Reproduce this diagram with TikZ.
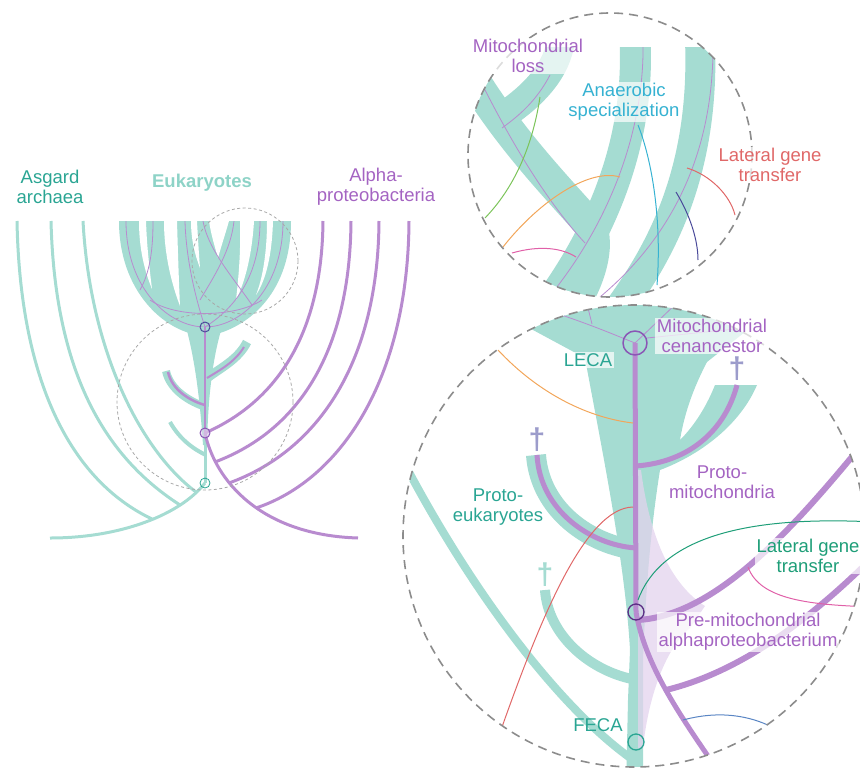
\documentclass[tikz,border=0pt]{standalone}
\usepackage{fontspec}
\setmainfont{Liberation Sans}
\definecolor{tealF}{HTML}{A5DCD2}
\definecolor{tealT}{HTML}{2AA593}
\definecolor{tealL}{HTML}{8ED3C7}
\definecolor{purL}{HTML}{B88BCF}
\definecolor{purT}{HTML}{A464C2}
\definecolor{purC}{HTML}{8A55B5}
\definecolor{purD}{HTML}{5B2D85}
\definecolor{lav}{HTML}{E3D3EE}
\definecolor{dagP}{HTML}{9C9CCB}
\definecolor{grayD}{HTML}{8C8C8C}
\definecolor{grayL}{HTML}{A8A8A8}
\definecolor{lgtG}{HTML}{1E9E78}
\definecolor{lgtR}{HTML}{E06868}
\definecolor{cyanT}{HTML}{36B2D2}
\definecolor{orangeL}{HTML}{F2A65A}
\definecolor{pinkL}{HTML}{E060A8}
\definecolor{blueL}{HTML}{5A86C4}
\definecolor{navyL}{HTML}{4A4A9A}
\definecolor{greenL}{HTML}{7CC45A}
\begin{document}
\begin{tikzpicture}[x=1pt,y=-1pt,line join=round,
  lbl/.style={font=\fontsize{18.5}{20}\selectfont,align=center,inner sep=1.5pt},
  bx/.style={fill=white,fill opacity=0.7,text opacity=1},
  asg/.style={draw=tealF,line width=3pt},
  alp/.style={draw=purL,line width=3pt},
  band/.style={draw=tealF,line width=#1},
  thinp/.style={draw=purL,line width=0.8pt},
  slit/.style={fill=white},
  dagger/.style={font=\fontsize{30}{30}\selectfont\bfseries,inner sep=0pt},
  lgt/.style={line width=1pt},
  dashL/.style={draw=grayL,line width=0.8pt,dash pattern=on 3pt off 2.5pt},
  dashR/.style={draw=grayD,line width=1.6pt,dash pattern=on 9pt off 6pt},
]
\useasboundingbox (0,0) rectangle (860,769);
\clip (0,0) rectangle (860,769);

%================ LEFT PANEL =================
\coordinate (leca) at (205,327);
\coordinate (mid) at (205,433);
\coordinate (feca) at (205,483);
\coordinate (abot) at (50,538);
\coordinate (pbot) at (358,538);
\coordinate (a1t) at (17,221); \coordinate (a1b) at (152,519);
\coordinate (a2t) at (51,221); \coordinate (a2b) at (180,505);
\coordinate (a3t) at (83,221); \coordinate (a3b) at (196,492);
\coordinate (b1t) at (323,221);
\coordinate (b2t) at (351,221); \coordinate (b2b) at (215,462);
\coordinate (b3t) at (379,221); \coordinate (b3b) at (229,483);
\coordinate (b4t) at (409,221); \coordinate (b4b) at (256,508);

% Asgard archaea
\draw[asg] (abot) .. controls (120,538) and (180,515) .. (feca);
\draw[asg] (a1t) .. controls (20,380) and (70,480) .. (a1b);
\draw[asg] (a2t) .. controls (55,380) and (110,460) .. (a2b);
\draw[asg] (a3t) .. controls (90,350) and (140,450) .. (a3b);

% Crown of eukaryotes: bowl with slits
\fill[tealF] (119,221) .. controls (119,292) and (165,331) .. (199,335) -- (213,335) .. controls (250,326) and (291,292) .. (291,221) -- cycle;
\fill[slit] (139,221) -- (146,221) .. controls (147,250) and (150,272) .. (152,289) .. controls (145,272) and (139,250) .. (139,221) -- cycle;
\fill[slit] (164,221) -- (177,221) .. controls (178,255) and (179,285) .. (180,306) .. controls (172,285) and (164,255) .. (164,221) -- cycle;
\fill[slit] (191,221) -- (197,221) .. controls (198,240) and (199,255) .. (200,268) .. controls (195,255) and (191,240) .. (191,221) -- cycle;
\fill[slit] (209,221) -- (229,221) .. controls (225,235) and (221,247) .. (218,258) .. controls (215,247) and (211,235) .. (209,221) -- cycle;
\fill[slit] (240,221) -- (254,221) .. controls (252,255) and (245,282) .. (236,300) .. controls (238,282) and (241,255) .. (240,221) -- cycle;
\fill[slit] (267,221) -- (273,221) .. controls (272,255) and (266,280) .. (256,295) .. controls (262,280) and (267,255) .. (267,221) -- cycle;
\begin{scope}
\clip (100,221) rectangle (310,336);
\draw[thinp] (126,221) .. controls (126,290) and (170,327) .. (205,327);
\draw[thinp] (153,221) .. controls (153,250) and (150,272) .. (140,290);
\draw[thinp] (185,221) .. controls (186,260) and (196,300) .. (205,327);
\draw[thinp] (203,221) .. controls (208,250) and (235,280) .. (252,305);
\draw[thinp] (234,221) .. controls (231,250) and (215,275) .. (200,300);
\draw[thinp] (260,221) .. controls (260,270) and (240,305) .. (205,327);
\draw[thinp] (283,221) .. controls (283,290) and (240,327) .. (205,327);
\draw[thinp] (150,300) .. controls (175,318) and (235,318) .. (262,300);
\end{scope}

% stem wedge and side branches
\fill[tealF] (186,327) .. controls (195,360) and (200,400) .. (203,445) -- (207,445) .. controls (208,400) and (212,360) .. (222,327) -- cycle;
\draw[tealF,line width=3pt] (leca) -- (feca);
\draw[band=9pt] (206,379) .. controls (220,368) and (238,360) .. (247,342);
\draw[band=8pt] (166,371) .. controls (170,390) and (190,402) .. (206,407);
\draw[band=4pt] (170,422) .. controls (180,440) and (195,450) .. (206,455);
\draw[purL,line width=2pt] (207,378) .. controls (220,370) and (235,362) .. (244,347);
\draw[purL,line width=2.5pt] (168,372) .. controls (172,390) and (190,401) .. (205,405);
\draw[purL,line width=2pt] (leca) -- (mid);

% Alphaproteobacteria
\draw[alp] (mid) .. controls (215,480) and (260,535) .. (pbot);
\draw[alp] (b1t) .. controls (322,330) and (280,400) .. (mid);
\draw[alp] (b2t) .. controls (350,350) and (300,430) .. (b2b);
\draw[alp] (b3t) .. controls (378,360) and (320,450) .. (b3b);
\draw[alp] (b4t) .. controls (408,380) and (340,480) .. (b4b);

% markers
\draw[navyL,line width=1pt] (leca) circle[radius=5pt];
\draw[purC,fill=lav,fill opacity=0.6,line width=1pt] (mid) circle[radius=5pt];
\draw[tealT,line width=0.8pt] (feca) circle[radius=5pt];

% dashed zoom circles
\draw[dashL] (245,261) circle[radius=53pt];
\draw[dashL] (205,402) circle[radius=88pt];

% labels
\node[lbl,text=tealT] (asgard) at (50,187) {Asgard\\archaea};
\node[lbl,text=tealL,font=\fontsize{18.5}{20}\selectfont\bfseries] (euk) at (202,183) {Eukaryotes};
\node[lbl,text=purT] (alpha) at (376,187) {Alpha-\\proteobacteria};

%================ TOP RIGHT CIRCLE =================
\coordinate (tc) at (610,155);
\begin{scope}
\clip (tc) circle[radius=142pt];
\clip (400,47) rectangle (800,320);
\draw[band=32pt] (462,60) .. controls (505,135) and (555,185) .. (590,225) .. controls (600,245) and (590,280) .. (570,310);
\draw[band=28pt] (561,40) .. controls (557,70) and (535,95) .. (500,118);
\draw[band=31pt] (635,40) .. controls (640,140) and (603,230) .. (548,305);
\draw[band=30pt] (700,40) .. controls (705,170) and (662,250) .. (618,310);
\draw[thinp] (480,80) .. controls (515,150) and (550,205) .. (585,243);
\draw[thinp] (550,75) .. controls (537,100) and (520,115) .. (502,128);
\draw[thinp] (643,40) .. controls (645,130) and (610,220) .. (553,292);
\draw[thinp] (713,50) .. controls (712,160) and (668,240) .. (600,297);
\draw[greenL,lgt] (540,97) .. controls (532,150) and (512,190) .. (485,218);
\draw[orangeL,lgt] (503,247) .. controls (540,200) and (590,168) .. (620,177);
\draw[pinkL,lgt] (512,253) .. controls (540,245) and (562,248) .. (576,257);
\draw[cyanT,lgt] (638,125) .. controls (652,160) and (662,220) .. (657,285);
\draw[navyL,lgt] (676,192) .. controls (690,215) and (698,240) .. (698,260);
\draw[lgtR,lgt] (687,168) .. controls (710,175) and (730,195) .. (735,215);
\end{scope}
\draw[dashR] (tc) circle[radius=142pt];
\node[lbl,bx,text=purT] (mloss) at (528,56) {Mitochondrial\\loss};
\node[lbl,bx,text=cyanT] (anaer) at (624,102) {Anaerobic\\specialization};
\node[lbl,bx,text=lgtR] (lgt1) at (770,165) {Lateral gene\\transfer};

%================ BIG CIRCLE =================
\coordinate (bc) at (634,536);
\coordinate (leca2) at (635,343);
\coordinate (mid2) at (636,612);
\coordinate (feca2) at (636,742);
\begin{scope}
\clip (bc) circle[radius=231pt];
% teal crown, stem and right branch
\fill[tealF] (470,280) -- (533,330) -- (585,358) .. controls (600,440) and (625,560) .. (630,650) -- (628,700) -- (626,790) -- (643,790) -- (643,660) .. controls (646,580) and (652,520) .. (660,470) .. controls (700,455) and (740,425) .. (757,385) -- (715,385) .. controls (705,410) and (692,428) .. (680,440) .. controls (685,410) and (695,385) .. (707,362) -- (745,332) -- (800,280) -- cycle;
% left teal lines
\draw[band=8pt] (400,455) .. controls (470,590) and (560,710) .. (636,762);
\draw[band=10pt] (545,590) .. controls (548,635) and (590,672) .. (637,680);
\draw[band=20pt] (536,455) .. controls (540,510) and (590,545) .. (637,550);
% lavender region
\fill[lav,opacity=0.75] (641,470) .. controls (650,540) and (672,585) .. (705,606) -- (690,628) .. controls (664,650) and (648,700) .. (643,748) -- (638,748) -- (638,470) -- cycle;
% thin purple lines in crown
\draw[thinp] (leca2) .. controls (610,333) and (580,320) .. (530,305);
\draw[thinp] (592,324) -- (586,300);
\draw[thinp] (leca2) -- (680,300);
\draw[thinp] (647,338) -- (745,328);
% purple lineages
\draw[purL,line width=5pt] (leca2) -- (mid2);
\draw[purL,line width=5pt] (mid2) .. controls (645,665) and (680,715) .. (712,762) -- (742,748);
\draw[purL,line width=5pt] (636,466) .. controls (690,462) and (725,430) .. (737,385);
\draw[purL,line width=5pt] (537,455) .. controls (540,510) and (590,545) .. (636,548);
\draw[purL,line width=6pt] (638,620) .. controls (720,615) and (800,520) .. (870,435);
\draw[purL,line width=6pt] (666,690) .. controls (740,672) and (810,620) .. (875,555);
% lateral gene transfers
\draw[orangeL,lgt] (498,350) .. controls (540,395) and (590,418) .. (633,423);
\draw[lgtR,lgt] (502,727) .. controls (540,620) and (585,508) .. (633,507);
\draw[lgtG,lgt] (638,600) .. controls (660,540) and (740,515) .. (875,522);
\draw[pinkL,lgt] (748,567) .. controls (760,600) and (810,605) .. (875,607);
\draw[blueL,lgt] (683,720) .. controls (720,710) and (750,716) .. (772,727);
\end{scope}
% nodes on lineages
\draw[purC,line width=1.5pt] (leca2) circle[radius=12pt];
\draw[purD,line width=1.3pt] (mid2) circle[radius=8pt];
\draw[tealT,line width=1.3pt] (feca2) circle[radius=8pt];
\draw[dashR] (bc) circle[radius=231pt];

% daggers
\node[dagger,text=dagP] (dag1) at (537,440) {†};
\node[dagger,text=dagP] (dag2) at (737,369) {†};
\node[dagger,text=tealF] (dag3) at (545,575) {†};

% labels
\node[lbl,bx,text=purT] (cenan) at (712,336) {Mitochondrial\\cenancestor};
\node[lbl,bx,text=tealT] (lecal) at (588,360) {LECA};
\node[lbl,text=purT] (protom) at (722,482) {Proto-\\mitochondria};
\node[lbl,text=tealT] (protoe) at (498,507) {Proto-\\eukaryotes};
\node[lbl,bx,text=lgtG] (lgt2) at (808,556) {Lateral gene\\transfer};
\node[lbl,bx,text=purT] (premito) at (748,632) {Pre-mitochondrial\\alphaproteobacterium};
\node[lbl,text=tealT] (fecal) at (598,725) {FECA};
\end{tikzpicture}
\end{document}
